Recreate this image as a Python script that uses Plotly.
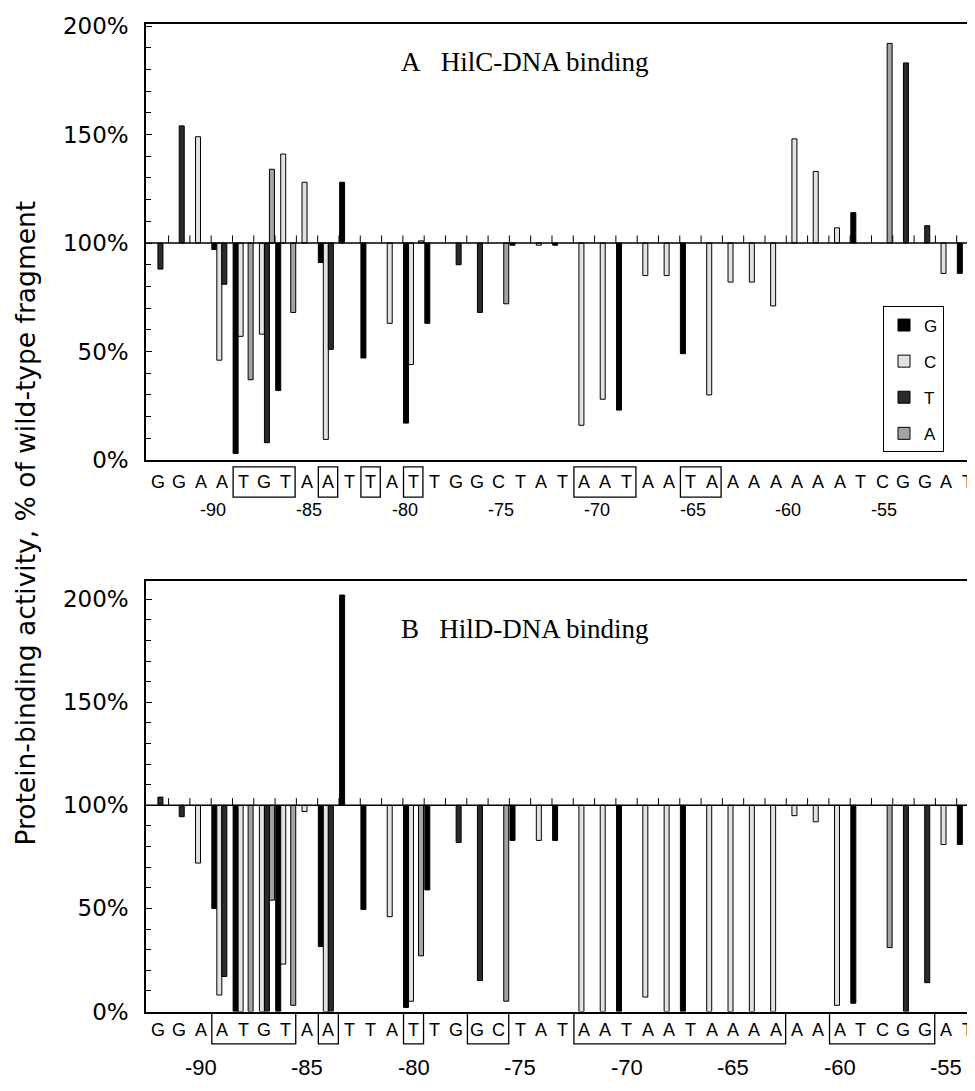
import plotly.graph_objects as go

# ---------------- data ----------------
positions = list(range(-92, -53))          # -92 .. -54
sequence = list("GGAATGTAATTATTGGCTATAATAATAAAAAAATCGGAT")
bases = ["G", "C", "T", "A"]
base_colors = {"G": "#000000", "C": "#e2e2e2", "T": "#2b2b2b", "A": "#a3a3a3"}
number_labels = [-90, -85, -80, -75, -70, -65, -60, -55]
y_ticks = [0, 50, 100, 150, 200]

# Panel A: HilC-DNA binding (% of wild type), mutant base -> (positions, values)
hilc_G_pos = [-89, -88, -86, -84, -83, -82, -80, -79, -75, -73, -70, -67, -59, -54]
hilc_G_val = [97, 3, 32, 91, 128, 47, 17, 63, 99, 99, 23, 49, 114, 86]
hilc_C_pos = [-90, -89, -88, -87, -86, -85, -84, -81, -80, -74, -72, -71, -69, -68,
              -66, -65, -64, -63, -62, -61, -60, -55]
hilc_C_val = [149, 46, 57, 58, 141, 128, 9.5, 63, 44, 99, 16, 28, 85, 85,
              30, 82, 82, 71, 148, 133, 107, 86]
hilc_T_pos = [-92, -91, -89, -87, -84, -78, -77, -57, -56]
hilc_T_val = [88, 154, 81, 8, 51, 90, 68, 183, 108]
hilc_A_pos = [-88, -87, -86, -80, -76, -58]
hilc_A_val = [37, 134, 68, 101, 72, 192]

# Panel B: HilD-DNA binding
hild_G_pos = hilc_G_pos
hild_G_val = [50, 0, 0, 31.5, 202, 49.5, 2, 59, 83, 83, 0, 0, 4, 81]
hild_C_pos = hilc_C_pos
hild_C_val = [72, 8, 0, 0, 23, 97, 0, 46, 5, 83, 0, 0, 7, 0,
              0, 0, 0, 0, 95, 92, 3, 81]
hild_T_pos = hilc_T_pos
hild_T_val = [104, 94.5, 17, 0, 0, 82, 15, 0, 14]
hild_A_pos = hilc_A_pos
hild_A_val = [0, 54, 3, 27, 5, 31]

boxes_A = [(-88, -86), (-84, -84), (-82, -82), (-80, -80), (-72, -70), (-67, -66)]
boxes_B = [(-89, -86), (-84, -84), (-80, -80), (-77, -76), (-72, -63), (-60, -56)]

panelA = {"G": (hilc_G_pos, hilc_G_val), "C": (hilc_C_pos, hilc_C_val),
          "T": (hilc_T_pos, hilc_T_val), "A": (hilc_A_pos, hilc_A_val)}
panelB = {"G": (hild_G_pos, hild_G_val), "C": (hild_C_pos, hild_C_val),
          "T": (hild_T_pos, hild_T_val), "A": (hild_A_pos, hild_A_val)}

# ---------------- geometry ----------------
# the page body keeps its default 8px margin, so the figure is drawn 8px in
OFF = 8
W, H = 975 - OFF, 1091 - OFF
def px(pix):
    return (pix - OFF) / W
def py(pix):
    return 1 - (pix - OFF) / H

fig = go.Figure()

def add_panel(panel, xa, ya, show_legend):
    for b in bases:
        xs, vs = panel[b]
        fig.add_trace(go.Bar(
            x=xs, y=[v - 100 for v in vs], base=100,
            name=b, legendgroup=b, showlegend=show_legend,
            marker=dict(color=base_colors[b], line=dict(color="black", width=1)),
            xaxis=xa, yaxis=ya, hoverinfo="skip"))
    # small tick marks above the 100% line at position boundaries
    tx, ty = [], []
    tick_h = 3.5
    for p in positions[:-1]:
        tx += [p + 0.5, p + 0.5, None]
        ty += [100, 100 + tick_h, None]
    fig.add_trace(go.Scatter(x=tx, y=ty, mode="lines", line=dict(color="black", width=1),
                             showlegend=False, hoverinfo="skip", xaxis=xa, yaxis=ya))

add_panel(panelA, "x", "y", True)
add_panel(panelB, "x2", "y2", False)

xrange = [-92.56, -53.64]
axis_font = dict(family="DejaVu Sans", size=23, color="black")
common_x = dict(range=xrange, showgrid=False, zeroline=False, showticklabels=False,
                ticks="", showline=True, linecolor="black", linewidth=1.5, mirror=True)
common_y = dict(showgrid=False, zeroline=False, showline=True, linecolor="black",
                linewidth=1.5, mirror=False, ticks="inside", ticklen=6, tickcolor="black",
                tickvals=y_ticks, ticktext=[f"{t}%" for t in y_ticks],
                tickfont=axis_font, ticklabelstandoff=11, ticklabeloverflow="allow",
                minor=dict(dtick=10, ticks="inside", ticklen=5, tickcolor="black"))

fig.update_layout(
    width=W, height=H,
    margin=dict(l=0, r=0, t=0, b=0),
    paper_bgcolor="white", plot_bgcolor="white",
    barmode="group", bargap=0.06, bargroupgap=0,
    xaxis=dict(domain=[px(146), 1], anchor="y", **common_x),
    yaxis=dict(domain=[py(459), py(13)], range=[0, 201], anchor="x", **common_y),
    xaxis2=dict(domain=[px(146), 1], anchor="y2", **common_x),
    yaxis2=dict(domain=[py(1023), py(583)], range=[0, 208.7], anchor="x2", **common_y),
    legend=dict(x=px(883), y=py(302), xanchor="left", yanchor="top",
                bordercolor="black", borderwidth=1, bgcolor="white",
                font=dict(family="Liberation Sans", size=17, color="black"),
                tracegroupgap=11, itemwidth=30),
    showlegend=True,
)

# baseline 100% lines
for ya, xa in (("y", "x"), ("y2", "x2")):
    fig.add_shape(type="line", xref=f"{xa} domain", yref=ya, x0=0, x1=1, y0=100, y1=100,
                  line=dict(color="black", width=1.5))

annotations = []
letter_font = dict(family="Liberation Sans", size=18, color="black")
for p, s in zip(positions, sequence):
    annotations.append(dict(x=p, y=py(481), xref="x", yref="paper", text=s,
                            showarrow=False, font=letter_font, xanchor="center", yanchor="middle"))
    annotations.append(dict(x=p, y=py(1042), xref="x2", yref="paper", text=s,
                            showarrow=False, font=letter_font, xanchor="center", yanchor="middle"))

# position numbers (panel A labels in the source are drawn slightly compressed)
for L in number_labels:
    annotations.append(dict(x=-89.4 + (L + 90) * 0.9, y=py(510), xref="x", yref="paper",
                            text=str(L), showarrow=False, xanchor="center", yanchor="middle",
                            font=dict(family="Liberation Sans", size=18, color="black")))
    annotations.append(dict(x=L, y=py(1080), xref="x2", yref="paper", text=str(L),
                            showarrow=False, xanchor="center", yanchor="middle",
                            font=dict(family="Liberation Sans", size=22, color="black")))

title_font = dict(family="Liberation Serif", size=27, color="black")
annotations.append(dict(x=px(525), y=py(52), xref="paper", yref="paper",
                        xanchor="center", yanchor="middle",
                        text="A\u00a0\u00a0\u00a0HilC-DNA binding", showarrow=False, font=title_font))
annotations.append(dict(x=px(525), y=py(632), xref="paper", yref="paper",
                        xanchor="center", yanchor="middle",
                        text="B\u00a0\u00a0\u00a0HilD-DNA binding", showarrow=False, font=title_font))
annotations.append(dict(x=px(26), y=py(524), xref="paper", yref="paper", textangle=-90,
                        xanchor="center", yanchor="middle",
                        text="Protein-binding activity, % of wild-type fragment", showarrow=False,
                        font=dict(family="DejaVu Sans", size=26.5, color="black")))
fig.update_layout(annotations=annotations)

# boxes around sequence letters
for (a, b) in boxes_A:
    fig.add_shape(type="rect", xref="x", yref="paper", x0=a - 0.47, x1=b + 0.44,
                  y0=py(497), y1=py(466), line=dict(color="black", width=1.3))
for (a, b) in boxes_B:
    fig.add_shape(type="rect", xref="x2", yref="paper", x0=a - 0.47, x1=b + 0.47,
                  y0=py(1056), y1=py(1025), line=dict(color="black", width=1.3))

fig.write_html("out.html")
